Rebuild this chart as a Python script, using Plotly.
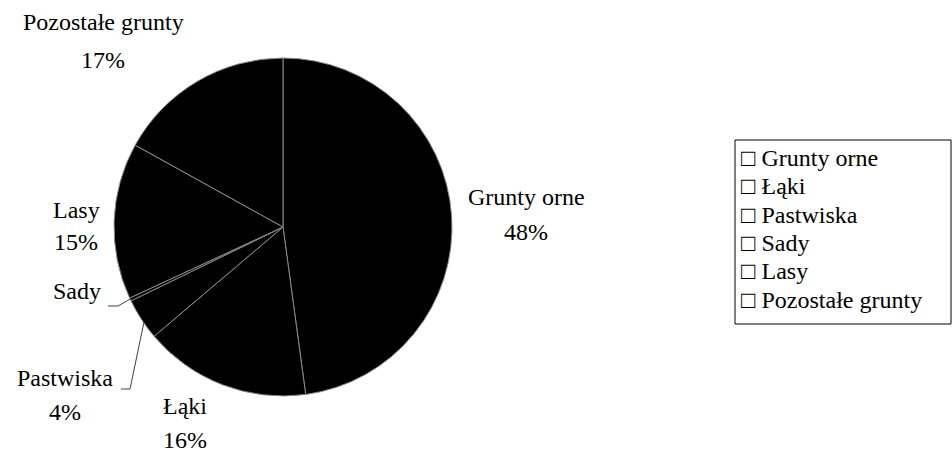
import plotly.graph_objects as go

# ---- data ----
categories = ["Grunty orne", "Łąki", "Pastwiska", "Sady", "Lasy", "Pozostałe grunty"]
values = [48, 16, 4, 0.3, 15, 17]

W, H = 952, 454
FONT = "Liberation Serif"
FS = 24

def px(x):
    return x / W

def py(y):
    return 1 - y / H

total = sum(values)
pct = [round(v / total * 100) for v in values]

# pie geometry (pixels)
cx, cy, r = 283, 227, 169

fig = go.Figure()
fig.add_trace(go.Pie(
    labels=categories,
    values=values,
    sort=False,
    direction="clockwise",
    rotation=0,
    marker=dict(colors=["#000000"] * len(categories),
                line=dict(color="#8a8a8a", width=1)),
    textinfo="none",
    hoverinfo="label+percent",
    showlegend=False,
    domain=dict(x=[px(cx - r), px(cx + r)], y=[py(cy + r), py(cy - r)]),
))

# label placement (pixel centres of name line / percent line)
label_pos = {
    "Grunty orne": (526, 197, 232),
    "Łąki": (185, 406, 440),
    "Pastwiska": (65, 378, 412),
    "Sady": (77, 291, None),
    "Lasy": (76, 210, 242),
    "Pozostałe grunty": (103, 22, 60),
}

annotations = []
for name, p in zip(categories, pct):
    x, y1, y2 = label_pos[name]
    annotations.append(dict(x=px(x), y=py(y1), xref="paper", yref="paper",
                            text=name, showarrow=False, xanchor="center",
                            yanchor="middle", font=dict(family=FONT, size=FS, color="#000")))
    if p >= 1 and y2 is not None:
        annotations.append(dict(x=px(x), y=py(y2), xref="paper", yref="paper",
                                text=f"{p}%", showarrow=False, xanchor="center",
                                yanchor="middle", font=dict(family=FONT, size=FS, color="#000")))

# legend (box + entries)
leg_left, leg_top, leg_bottom, leg_right = 735, 140, 324, 951
row0, row_step = 158, 28.3
for i, name in enumerate(categories):
    annotations.append(dict(x=px(leg_left + 4), y=py(row0 + i * row_step), xref="paper", yref="paper",
                            text="□ " + name, showarrow=False, xanchor="left", yanchor="middle",
                            font=dict(family=FONT, size=FS, color="#000")))

shapes = [
    dict(type="rect", xref="paper", yref="paper",
         x0=px(leg_left), x1=px(leg_right), y0=py(leg_bottom), y1=py(leg_top),
         line=dict(color="#000", width=1), fillcolor="rgba(0,0,0,0)"),
    # leader lines
    dict(type="path", xref="paper", yref="paper",
         path=f"M {px(108)} {py(306)} L {px(118)} {py(306)} L {px(132)} {py(298)}",
         line=dict(color="#404040", width=1)),
    dict(type="path", xref="paper", yref="paper",
         path=f"M {px(121)} {py(389)} L {px(130)} {py(389)} L {px(144)} {py(322)}",
         line=dict(color="#404040", width=1)),
]

fig.update_layout(
    width=W, height=H,
    margin=dict(l=0, r=0, t=0, b=0),
    paper_bgcolor="white", plot_bgcolor="white",
    font=dict(family=FONT, size=FS, color="#000"),
    annotations=annotations,
    shapes=shapes,
    showlegend=False,
)

fig.write_html("out.html",
               config={"displayModeBar": False},
               post_script="document.body.style.margin='0';document.body.style.overflow='hidden';")
